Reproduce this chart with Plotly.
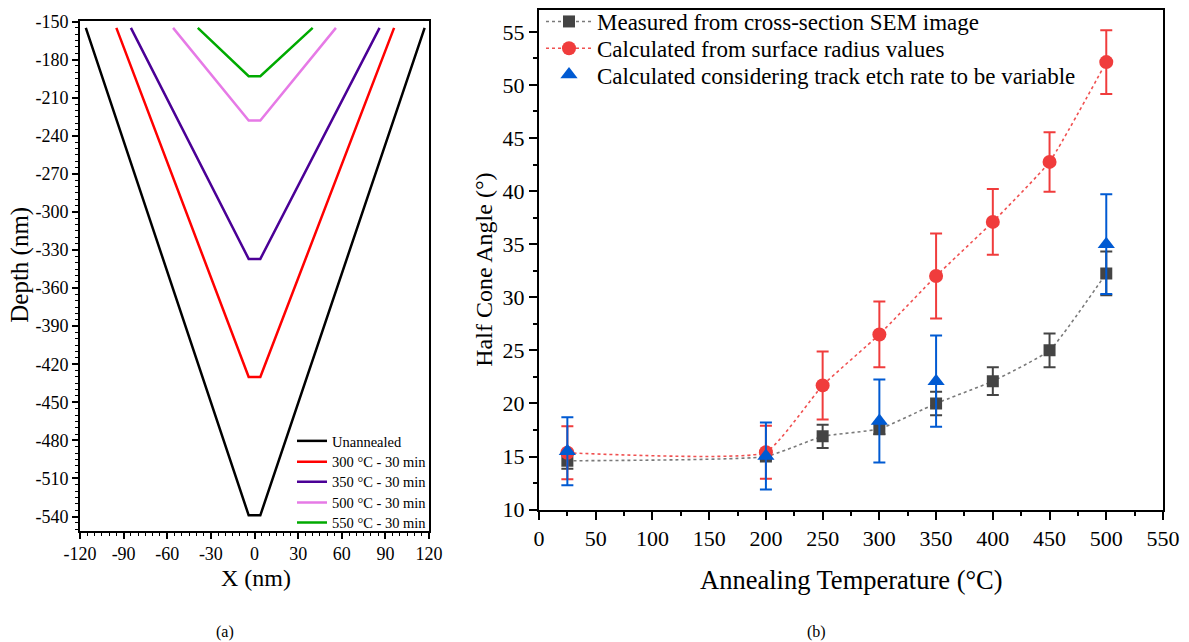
import plotly.graph_objects as go

# ---------- Panel (a) data: track profiles ----------
prof_names = ["Unannealed", "300 °C - 30 min", "350 °C - 30 min", "500 °C - 30 min", "550 °C - 30 min"]
prof_colors = ["#000000", "#ff0000", "#4b0096", "#e67ae6", "#00aa00"]
prof_x = [
    [-116, -4, 4, 117],
    [-95, -4, 4, 96],
    [-85, -4, 4, 86],
    [-56, -4, 4, 56],
    [-39, -4, 4, 40],
]
prof_y = [
    [-155, -539, -539, -155],
    [-155, -430, -430, -155],
    [-155, -337, -337, -155],
    [-155, -228, -228, -155],
    [-155, -193, -193, -155],
]
xa_ticks = [-120, -90, -60, -30, 0, 30, 60, 90, 120]
ya_ticks = [-540, -510, -480, -450, -420, -390, -360, -330, -300, -270, -240, -210, -180, -150]

# ---------- Panel (b) data ----------
series_names = ["Measured from cross-section SEM image",
                "Calculated from surface radius values",
                "Calculated considering track etch rate to be variable"]
temp_sem = [25, 200, 250, 300, 350, 400, 450, 500]
ang_sem = [14.6, 15.0, 16.9, 17.6, 20.0, 22.1, 25.0, 32.25]
err_sem = [0.75, 0.3, 1.1, 0.5, 1.1, 1.3, 1.6, 2.05]

temp_rad = [25, 200, 250, 300, 350, 400, 450, 500]
ang_rad = [15.35, 15.4, 21.7, 26.5, 32.0, 37.1, 42.75, 52.15]
err_rad = [2.5, 2.5, 3.2, 3.1, 4.0, 3.1, 2.8, 3.0]

temp_var = [25, 200, 300, 350, 500]
ang_var = [15.5, 15.05, 18.35, 22.1, 35.0]
err_var = [3.2, 3.15, 3.9, 4.3, 4.7]

xb_ticks = list(range(0, 551, 50))
yb_ticks = list(range(10, 56, 5))

FONT = "Liberation Serif"
W, H = 1189, 642


def px(x):
    return x / W


def py(y):
    return 1 - y / H


def lbl(v):
    return str(v).replace("\u2212", "-")


fig = go.Figure()

# left legend rows (pixel centres) -> one legend per row
left_rows = [440, 461, 481, 502, 522]
for i, (nm, col, xs, ys) in enumerate(zip(prof_names, prof_colors, prof_x, prof_y)):
    fig.add_trace(go.Scatter(x=xs, y=ys, mode="lines", name=nm,
                             line=dict(color=col, width=2.5),
                             xaxis="x", yaxis="y", legend="legend" if i == 0 else f"legend{i + 1}"))

fig.add_trace(go.Scatter(
    x=temp_sem, y=ang_sem, mode="lines+markers", name=series_names[0],
    line=dict(color="#7a7a7a", width=1.6, dash="dot", shape="spline", smoothing=0.4),
    marker=dict(symbol="square", size=12, color="#444444"),
    error_y=dict(type="data", array=err_sem, color="#444444", thickness=2, width=6),
    xaxis="x2", yaxis="y2", legend="legend6"))

fig.add_trace(go.Scatter(
    x=temp_rad, y=ang_rad, mode="lines+markers", name=series_names[1],
    line=dict(color="#f05050", width=1.6, dash="dot", shape="spline", smoothing=0.4),
    marker=dict(symbol="circle", size=14, color="#f03c3c"),
    error_y=dict(type="data", array=err_rad, color="#f03c3c", thickness=2, width=6),
    xaxis="x2", yaxis="y2", legend="legend7"))

fig.add_trace(go.Scatter(
    x=temp_var, y=ang_var, mode="markers", name=series_names[2],
    marker=dict(symbol="triangle-up", size=15, color="#005ad2"),
    error_y=dict(type="data", array=err_var, color="#005ad2", thickness=2, width=6),
    xaxis="x2", yaxis="y2", legend="legend8"))

tickfont_a = dict(family=FONT, size=18, color="black")
tickfont_b = dict(family=FONT, size=22, color="black")

common = dict(showline=True, linecolor="black", linewidth=2, mirror=True, showgrid=False,
              zeroline=False, automargin=False, ticks="outside", tickcolor="black")

layout = dict(
    template="none",
    width=W, height=H,
    margin=dict(l=0, r=0, t=0, b=0, pad=0),
    paper_bgcolor="white", plot_bgcolor="white",
    font=dict(family=FONT, color="black"),
    xaxis=dict(domain=[px(80), px(429)], range=[-120, 120],
               tickmode="array", tickvals=xa_ticks, ticktext=[lbl(v) for v in xa_ticks],
               ticklen=6, tickwidth=1.5,
               minor=dict(dtick=5, ticks="outside", ticklen=3, tickwidth=1.2, tickcolor="black"),
               tickfont=tickfont_a, anchor="y", **common),
    yaxis=dict(domain=[py(530), py(18)], range=[-551, -149.5],
               tickmode="array", tickvals=ya_ticks, ticktext=[lbl(v) for v in ya_ticks],
               ticklen=6, tickwidth=1.5,
               minor=dict(dtick=5, ticks="outside", ticklen=3, tickwidth=1.2, tickcolor="black"),
               tickfont=tickfont_a, anchor="x", **common),
    xaxis2=dict(domain=[px(539), px(1163)], range=[0, 550],
                tickmode="array", tickvals=xb_ticks, ticktext=[str(v) for v in xb_ticks],
                ticklen=8, tickwidth=1.5,
                minor=dict(dtick=25, ticks="outside", ticklen=4, tickwidth=1.5, tickcolor="black"),
                tickfont=tickfont_b, anchor="y2", **common),
    yaxis2=dict(domain=[py(509), py(7)], range=[10, 57.06],
                tickmode="array", tickvals=yb_ticks, ticktext=[str(v) for v in yb_ticks],
                ticklen=8, tickwidth=1.5,
                minor=dict(dtick=2.5, ticks="outside", ticklen=4, tickwidth=1.5, tickcolor="black"),
                tickfont=tickfont_b, anchor="x2", **common),
    annotations=[
        dict(text="Depth (nm)", x=px(20), y=py(263), xref="paper", yref="paper", showarrow=False,
             xanchor="center", yanchor="middle", textangle=-90, font=dict(family=FONT, size=25)),
        dict(text="X (nm)", x=px(256), y=py(578), xref="paper", yref="paper", showarrow=False,
             xanchor="center", yanchor="middle", font=dict(family=FONT, size=24)),
        dict(text="Half Cone Angle (°)", x=px(484), y=py(268), xref="paper", yref="paper", showarrow=False,
             xanchor="center", yanchor="middle", textangle=-90, font=dict(family=FONT, size=24)),
        dict(text="Annealing Temperature (°C)", x=px(851), y=py(580), xref="paper", yref="paper",
             xanchor="center", yanchor="middle", showarrow=False, font=dict(family=FONT, size=26.5)),
        dict(text="(a)", x=px(225), y=py(632), xref="paper", yref="paper", showarrow=False,
             xanchor="center", yanchor="middle", font=dict(family=FONT, size=16)),
        dict(text="(b)", x=px(816), y=py(632), xref="paper", yref="paper", showarrow=False,
             xanchor="center", yanchor="middle", font=dict(family=FONT, size=16)),
    ],
    showlegend=True,
)

for i, yc in enumerate(left_rows):
    key = "legend" if i == 0 else f"legend{i + 1}"
    layout[key] = dict(x=px(292), y=py(yc), xanchor="left", yanchor="middle",
                       bgcolor="rgba(0,0,0,0)", font=dict(family=FONT, size=14.5),
                       itemwidth=30, borderwidth=0)

right_rows = [18.5, 45.5, 72]
for i, yc in enumerate(right_rows):
    layout[f"legend{6 + i}"] = dict(x=px(541), y=py(yc), xanchor="left", yanchor="middle",
                                    bgcolor="rgba(0,0,0,0)", font=dict(family=FONT, size=23),
                                    itemwidth=46, borderwidth=0)

fig.update_layout(**layout)

fig.write_html("out.html")
